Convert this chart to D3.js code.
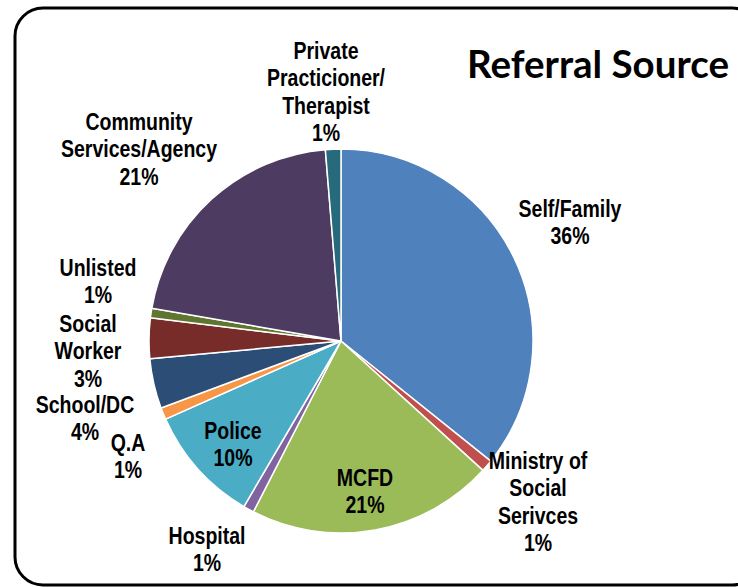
<!DOCTYPE html>
<html>
<head>
<meta charset="utf-8">
<script src="https://cdn.jsdelivr.net/npm/d3@7/dist/d3.min.js"></script>
<style>
  body { margin: 0; background: #fff; }
  svg { display: block; }
  .lbl { font-family: "Liberation Sans", Arial, sans-serif; font-weight: bold; font-size: 19.5px; fill: #000; }
  .title { font-family: Lato, "Open Sans", sans-serif; font-weight: bold; font-size: 38px; fill: #000; }
</style>
</head>
<body>
<svg id="chart" width="738" height="587"></svg>
<script>
// categories, clockwise from 12 o'clock
const categories = [
  "Self/Family",
  "Ministry of\nSocial\nSerivces",
  "MCFD",
  "Hospital",
  "Police",
  "Q.A",
  "School/DC",
  "Social\nWorker",
  "Unlisted",
  "Community\nServices/Agency",
  "Private\nPracticioner/\nTherapist"
]
// share of referrals (percent)
const values = [35.8, 1, 20.8, 0.9, 9.9, 1, 4.2, 3.4, 0.8, 21, 1.3]

const colors = ["#4F81BD", "#C0504D", "#9BBB59", "#8064A2", "#4BACC6", "#F79646",
                "#2C4D75", "#772C2A", "#5F7530", "#4D3B62", "#276A7C"]

// hand placed label spots (x centre, y centre of first line)
const labelPos = [
  [570, 208], [538, 460], [365, 477], [207, 535], [233, 430], [128, 442],
  [85, 404], [88, 323], [98, 267], [139, 121], [326, 50]
]

let svg = d3.select("#chart"),
    cx = 341, cy = 341, radius = 192,
    lineH = 27.5,
    stretch = 1.25   // labels in the original are drawn tall and narrow

// frame
svg.append("rect")
    .attr("x", 15).attr("y", 8)
    .attr("width", 745).attr("height", 577)
    .attr("rx", 28).attr("ry", 28)
    .attr("fill", "none")
    .attr("stroke", "#000")
    .attr("stroke-width", 3)

let pie = d3.pie().sort(null).value(d => d)
let arc = d3.arc().innerRadius(0).outerRadius(radius)
let total = d3.sum(values)

let g = svg.append("g").attr("transform", "translate(" + cx + "," + cy + ")")

g.selectAll("path")
    .data(pie(values))
    .enter()
    .append("path")
    .attr("d", arc)
    .attr("fill", (d, i) => colors[i])
    .attr("stroke", "#fff")
    .attr("stroke-width", 1.5)
    .attr("stroke-linejoin", "round")

// data labels
let labels = svg.selectAll(".lbl")
    .data(categories)
    .enter()
    .append("text")
    .attr("class", "lbl")
    .attr("text-anchor", "middle")
    .attr("transform", (d, i) => "translate(" + labelPos[i][0] + "," + labelPos[i][1] + ") scale(1," + stretch + ")")

labels.each(function (name, i) {
  let lines = name.split("\n").concat([Math.round(values[i] / total * 100) + "%"])
  let t = d3.select(this)
  lines.forEach((ln, k) => {
    t.append("tspan")
        .attr("x", 0)
        .attr("y", k * lineH / stretch)
        .attr("dy", "0.36em")
        .text(ln)
  })
})

// title
svg.append("text")
    .attr("class", "title")
    .attr("x", 467).attr("y", 78)
    .attr("textLength", 262)
    .attr("lengthAdjust", "spacingAndGlyphs")
    .text("Referral Source")
</script>
</body>
</html>
